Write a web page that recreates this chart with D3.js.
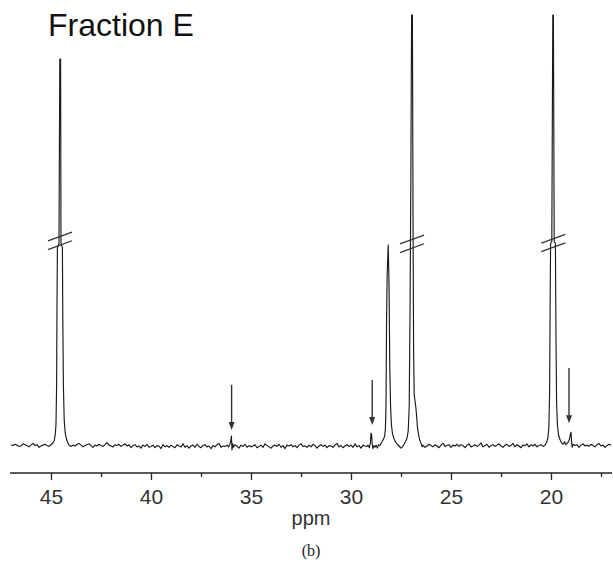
<!DOCTYPE html>
<html><head><meta charset="utf-8">
<script src="https://cdn.jsdelivr.net/npm/d3@7"></script>
<style>body{margin:0;background:#fff}svg{display:block}</style>
</head><body><svg id="c" width="613" height="573"></svg>
<script>
// ---- data ----
const baseStart = 47, baseStep = 0.1;
const baselineNoise = [
 0.3,0.1,0.4,0.2,-0.1,0.0,0.5,0.3,0.1,-0.2,0.2,0.6,0.1,0.3,-0.3,0.0,0.2,0.4,0.1,-0.1,
 0.3,0.5,0.0,-0.2,0.1,0.4,0.2,0.7,0.1,0.3,-0.1,0.2,0.0,0.4,0.6,0.2,-0.2,0.1,0.3,0.5,
 0.1,-0.3,0.2,0.0,0.4,0.1,-0.1,0.3,0.8,0.2,0.0,-0.2,0.3,0.1,0.4,-0.1,0.2,0.5,0.0,0.3,
 -0.4,0.1,0.3,-0.2,0.0,-0.5,0.2,-0.1,0.4,-0.3,-0.1,0.2,-0.4,0.1,0.0,-0.6,0.3,-0.2,0.1,-0.3,
 0.2,-0.1,-0.4,0.3,0.0,-0.2,0.5,-0.3,0.1,-0.5,0.0,0.2,-0.3,0.4,-0.1,-0.4,0.1,0.3,-0.2,0.0,
 -0.6,0.1,-0.2,0.3,0.6,-0.3,0.0,-0.1,0.2,-0.4,0.1,-0.2,0.3,0.0,-0.5,0.2,-0.1,0.4,-0.3,0.1,
 -0.2,0.0,0.3,-0.4,-0.1,0.2,-0.3,0.5,0.1,-0.2,-0.5,0.0,0.2,-0.1,0.4,-0.3,0.1,-0.6,0.2,0.0,
 0.3,-0.2,0.1,-0.4,0.2,0.5,-0.1,0.0,-0.3,0.2,-0.2,0.4,0.1,-0.5,0.0,0.3,-0.1,0.2,-0.4,0.1,
 0.0,-0.3,0.2,0.6,-0.2,0.1,-0.4,0.0,0.3,-0.1,0.2,-0.3,0.5,-0.2,0.1,-0.5,0.2,0.0,-0.1,0.3,
 -0.2,0.1,0.4,-0.3,0.0,0.2,-0.4,0.1,-0.1,0.3,0.6,-0.2,0.0,0.2,-0.3,0.1,0.4,-0.1,0.2,-0.4,
 0.0,0.3,-0.2,0.1,0.5,-0.1,0.2,-0.3,0.0,0.4,0.1,-0.2,0.3,0.0,-0.4,0.2,0.6,-0.1,0.1,0.3,
 -0.3,0.2,0.0,0.4,-0.1,0.3,0.1,-0.4,0.2,0.5,-0.2,0.0,0.3,-0.1,0.2,0.7,-0.2,0.1,0.4,-0.3,
 0.1,0.3,-0.1,0.2,0.5,0.0,-0.3,0.2,0.4,-0.1,0.1,0.6,-0.2,0.3,0.0,-0.4,0.2,0.1,0.5,-0.2,
 0.3,0.0,0.4,-0.2,0.1,0.3,-0.1,0.5,0.2,-0.3,0.1,0.4,0.0,0.2,-0.2,0.6,0.1,-0.1,0.3,0.2,
 -0.2,0.4,0.1,0.3,-0.3,0.2,0.5,0.0,0.2,-0.1,0.4,0.1,-0.2,0.3,0.6,0.0,0.2,-0.3,0.1,0.4,
 0.2
];
const peak45 = [[45.0,0.3],[44.9,0.7],[44.84,1.3],[44.79,2.5],[44.75,5],[44.72,14],[44.7,32],[44.68,46],
 [44.6,47],[44.56,89.8],[44.52,89.8],[44.5,47],[44.43,46],[44.41,30],[44.38,14],[44.34,6],[44.29,3],
 [44.22,1.5],[44.15,0.6],[44.08,0.1]];
const peak36 = [[36.12,-0.2],[36.06,0.4],[36.02,1.0],[35.98,2.3],[35.95,-0.9],[35.91,0.5],[35.88,-0.3]];
const peak28 = [[29.15,0.2],[29.08,-0.4],[29.03,0.8],[29.0,3.0],[28.97,2.6],[28.94,0.5],[28.9,-0.6],[28.85,0.1],
 [28.8,-0.3],[28.74,0.2],[28.68,-0.5],[28.62,0.3],[28.56,0.1],[28.5,0.6],[28.45,1.0],[28.38,1.6],[28.32,2.2],
 [28.28,4.0],[28.25,9],[28.22,30],[28.19,40],[28.14,46.7],[28.1,38],[28.06,18],[28.02,9],[27.98,5],[27.93,3],
 [27.86,1.8],[27.78,1.0],[27.7,0.5],[27.6,0.0],[27.5,-0.5],[27.42,-0.2],[27.35,0.4],[27.28,1.0],[27.2,1.8],
 [27.14,3.5],[27.09,9],[27.05,30],[27.01,60],[26.97,100],[26.93,100],[26.9,55],[26.87,22],[26.84,12],
 [26.8,10.5],[26.76,9],[26.72,7],[26.68,4.5],[26.63,2.8],[26.57,1.5],[26.5,0.6],[26.44,-0.2]];
const peak20 = [[20.3,0.2],[20.22,0.8],[20.16,1.8],[20.11,4],[20.07,12],[20.04,35],[20.02,47],[19.96,47.5],
 [19.91,100],[19.88,100],[19.84,47.5],[19.78,47],[19.75,25],[19.72,10],[19.68,5],[19.62,2.5],[19.55,1.5],
 [19.48,0.8],[19.4,0.4],[19.32,1.0],[19.26,0.3],[19.2,0.6],[19.14,0.9],[19.08,1.5],[19.04,2.5],[19.0,3.2],
 [18.97,1.0],[18.94,-0.3],[18.9,0.4]];
const majorTicks = [45,40,35,30,25,20];
const minorTicks = [42.5,37.5,32.5,27.5,22.5,17.5];
const arrows = [[35.97,14.2,3.7],[28.94,15.3,4.9],[19.1,18.1,5.3]]; // ppm, tail, tip
const breaks = [[44.55,47.6],[26.95,46.9],[19.885,47.1]];
const titleText = "Fraction E", xLabel = "ppm", caption = "(b)";

// ---- build spectrum ----
const peakSets = [peak45, peak36, peak28, peak20];
const windows = peakSets.map(p => [d3.min(p, d=>d[0]), d3.max(p, d=>d[0])]);
let spectrum = baselineNoise.map((v,i) => [baseStart - baseStep*i, v])
  .filter(d => !windows.some(w => d[0] >= w[0]-0.001 && d[0] <= w[1]+0.001));
peakSets.forEach(p => spectrum = spectrum.concat(p));
spectrum.sort((a,b) => b[0]-a[0]);

// ---- draw ----
const svg = d3.select("#c");
const x = d3.scaleLinear().domain([47,17]).range([11,611]);
const y = d3.scaleLinear().domain([0,100]).range([446,15]);
const font = "'Liberation Sans', Arial, sans-serif";

svg.append("path").datum(spectrum)
  .attr("d", d3.line().x(d=>x(d[0])).y(d=>y(d[1])))
  .attr("fill","none").attr("stroke","#1a1a1a").attr("stroke-width",1.15)
  .attr("stroke-linejoin","round");

// break marks
breaks.forEach(b => {
  const cx = x(b[0]), cy = y(b[1]);
  [-4.3, 4.3].forEach(off => {
    svg.append("line").attr("x1",cx-12).attr("x2",cx+12)
      .attr("y1",cy+off+4.4).attr("y2",cy+off-4.4)
      .attr("stroke","#333").attr("stroke-width",1.3);
  });
});

// arrows
arrows.forEach(a => {
  const ax = x(a[0]), y0 = y(a[1]), y1 = y(a[2]);
  svg.append("line").attr("x1",ax).attr("x2",ax).attr("y1",y0).attr("y2",y1-6)
    .attr("stroke","#333").attr("stroke-width",1.4);
  svg.append("path").attr("d",`M${ax-3},${y1-8} L${ax+3},${y1-8} L${ax},${y1} Z`).attr("fill","#333");
});

// axis
const axY = 473;
svg.append("line").attr("x1",10).attr("x2",612).attr("y1",axY).attr("y2",axY)
  .attr("stroke","#222").attr("stroke-width",1.5);
const gMaj = svg.append("g").attr("transform",`translate(0,${axY})`)
  .call(d3.axisBottom(x).tickValues(majorTicks).tickSize(7).tickPadding(9).tickFormat(d3.format("d")));
const gMin = svg.append("g").attr("transform",`translate(0,${axY})`)
  .call(d3.axisBottom(x).tickValues(minorTicks).tickSize(4).tickFormat(""));
[gMaj,gMin].forEach(g => { g.select(".domain").remove(); g.selectAll("line").attr("stroke","#222").attr("stroke-width",1.3); });
gMaj.selectAll("text").attr("font-family",font).attr("font-size",21).attr("fill","#333");

svg.append("text").attr("x",311).attr("y",525).attr("text-anchor","middle")
  .attr("font-family",font).attr("font-size",20).attr("fill","#333").text(xLabel);
svg.append("text").attr("x",48).attr("y",36)
  .attr("font-family",font).attr("font-size",32).attr("fill","#111").text(titleText);
svg.append("text").attr("x",311).attr("y",556).attr("text-anchor","middle")
  .attr("font-family","'Liberation Serif', 'Times New Roman', serif").attr("font-size",16).attr("fill","#222").text(caption);
</script></body></html>
